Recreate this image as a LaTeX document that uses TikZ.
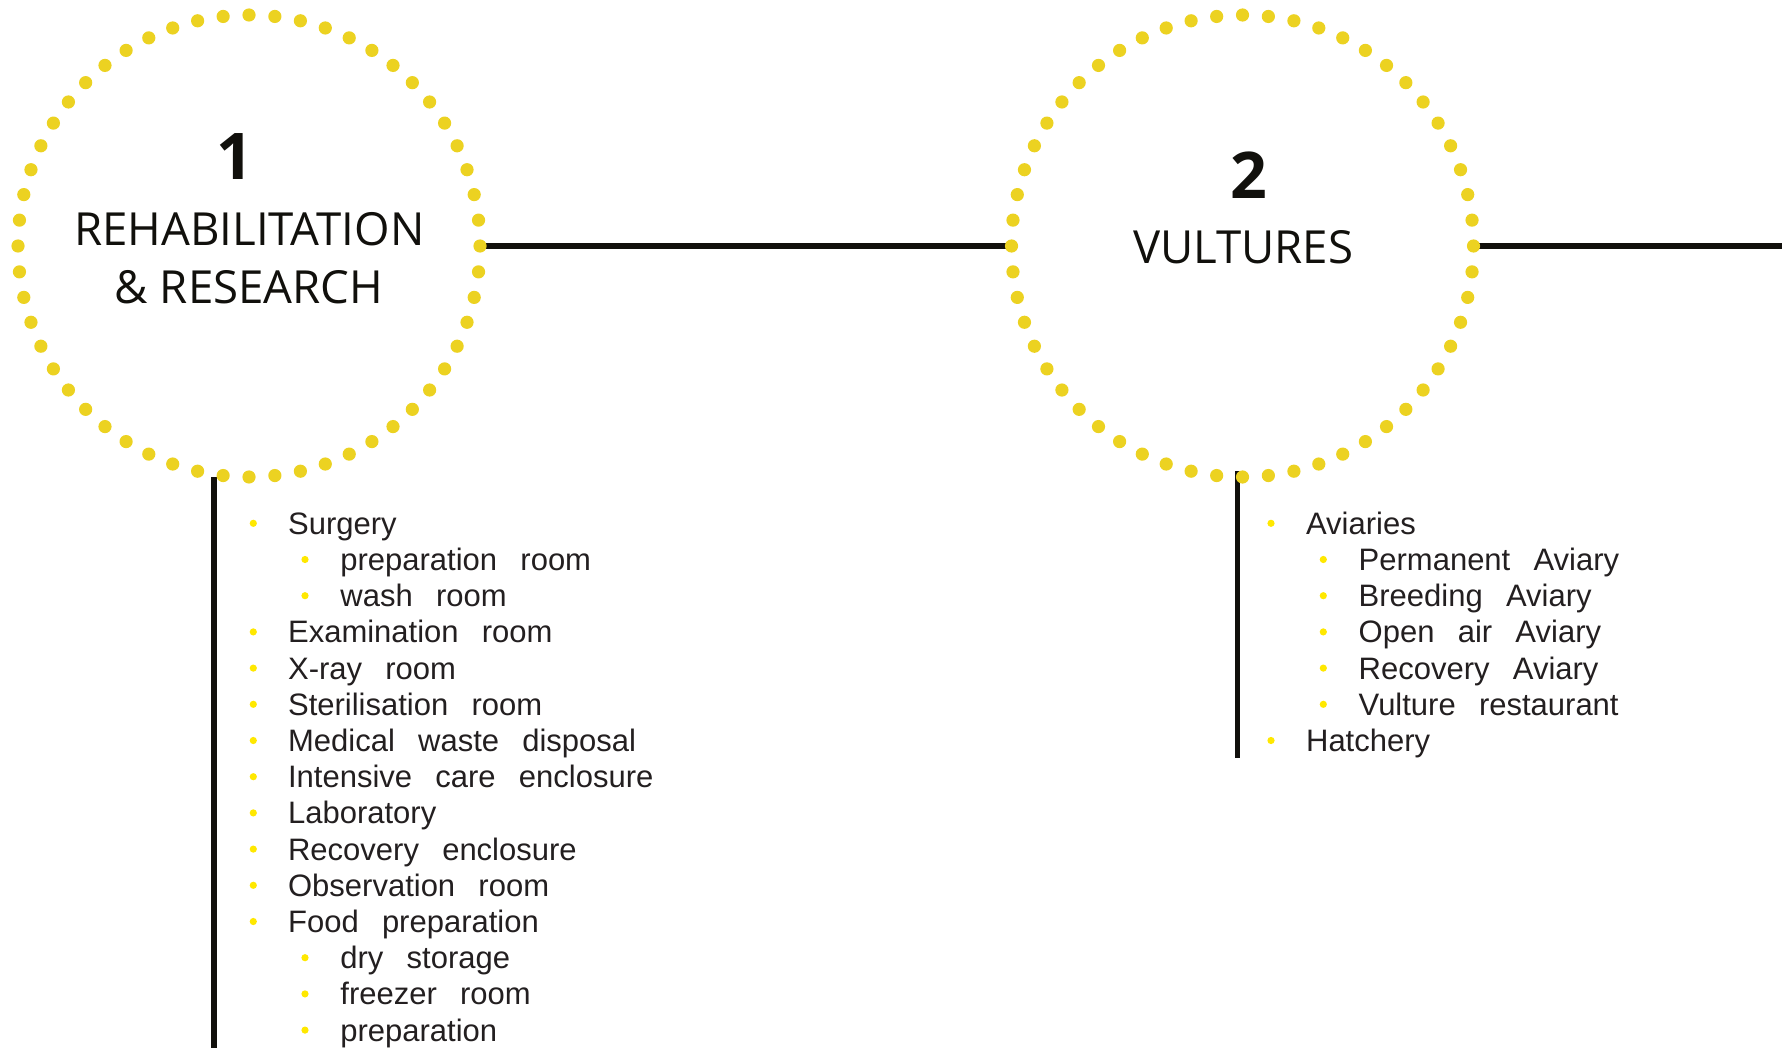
\documentclass[tikz,border=0pt]{standalone}
\usepackage{fontspec}
\setmainfont{Open Sans}
\newfontfamily\headfont{Open Sans}
\newfontfamily\listfont[WordSpace=2.7]{Liberation Sans}
\usetikzlibrary{calc}

\definecolor{ringyellow}{RGB}{236,210,33}
\definecolor{bulletyellow}{RGB}{255,232,0}
\definecolor{ink}{RGB}{17,16,12}
\definecolor{listink}{RGB}{35,31,32}

\begin{document}
\begin{tikzpicture}[x=0.5pt,y=-0.5pt,
  hub/.style={circle,minimum size=231pt,inner sep=0pt,outer sep=0pt},
  num/.style={font=\headfont\bfseries\fontsize{32.2pt}{36pt}\selectfont,text=ink,inner sep=0pt,anchor=base},
  title/.style={font=\headfont\fontsize{22.8pt}{28pt}\selectfont,text=ink,inner sep=0pt,anchor=base},
  link/.style={draw=ink,line width=2.75pt},
  ringdot/.style={fill=ringyellow},
  bullet/.style={fill=bulletyellow},
  item/.style={font=\listfont\fontsize{15.5pt}{18pt}\selectfont,text=listink,inner sep=0pt,anchor=base west}]

\fill[white] (0,0) rectangle (1782,1048);
\useasboundingbox (0,0) rectangle (1782,1048);

% the two hubs
\node[hub] (c1) at (249,246) {};
\node[hub] (c2) at (1242.5,246) {};

% hub titles
\node[num]   (n1)  at (235,179.3)    {1};
\node[title] (t1a) at (249.3,246)    {REHABILITATION};
\node[title] (t1b) at (249,303.3)    {\& RESEARCH};
\node[num]   (n2)  at (1248.7,199)   {2};
\node[title] (t2)  at (1243.3,263.3) {VULTURES};

% connectors
\coordinate (e2) at (1782,246);
\coordinate (v1top) at ($(c1.south)+(-34.8,0)$);
\coordinate (v1bot) at (v1top |- 0,1048);
\coordinate (v2top) at ($(c2.south)+(-5.2,-6)$);
\coordinate (v2bot) at (v2top |- 0,757.7);
\draw[link] (c1.east) -- (c2.west);
\draw[link] (c2.east) -- (e2);
\draw[link] (v1top) -- (v1bot);
\draw[link] (v2top) -- (v2bot);

% dotted rings: 56 dots each
\foreach \hubname in {c1,c2}{
  \foreach \j in {0,...,55}{
    \pgfmathsetmacro\ang{6.4285714*\j}
    \fill[ringdot] (\hubname.center) ++(\ang:231) circle (6.6);
  }
}

% first list
\foreach \k/\lvl/\txt in {0/1/Surgery, 1/2/preparation room, 2/2/wash room,
    3/1/Examination room, 4/1/X-ray room, 5/1/Sterilisation room,
    6/1/Medical waste disposal, 7/1/Intensive care enclosure, 8/1/Laboratory,
    9/1/Recovery enclosure, 10/1/Observation room, 11/1/Food preparation,
    12/2/dry storage, 13/2/freezer room, 14/2/preparation}{
  \pgfmathsetmacro\yb{523.3+36.2*\k}
  \pgfmathsetmacro\xb{\lvl==1 ? 253.3 : 305}
  \pgfmathsetmacro\xt{\lvl==1 ? 287.7 : 340}
  \fill[bullet] (\xb,\yb) circle (3.6);
  \node[item] (a\k) at (\xt,\yb+11) {\txt};
}

% second list
\foreach \k/\lvl/\txt in {0/1/Aviaries, 1/2/Permanent Aviary, 2/2/Breeding Aviary,
    3/2/Open air Aviary, 4/2/Recovery Aviary, 5/2/Vulture restaurant, 6/1/Hatchery}{
  \pgfmathsetmacro\yb{523.3+36.2*\k}
  \pgfmathsetmacro\xb{\lvl==1 ? 1271 : 1323.3}
  \pgfmathsetmacro\xt{\lvl==1 ? 1305.7 : 1358.3}
  \fill[bullet] (\xb,\yb) circle (3.6);
  \node[item] (b\k) at (\xt,\yb+11) {\txt};
}
\end{tikzpicture}
\end{document}
